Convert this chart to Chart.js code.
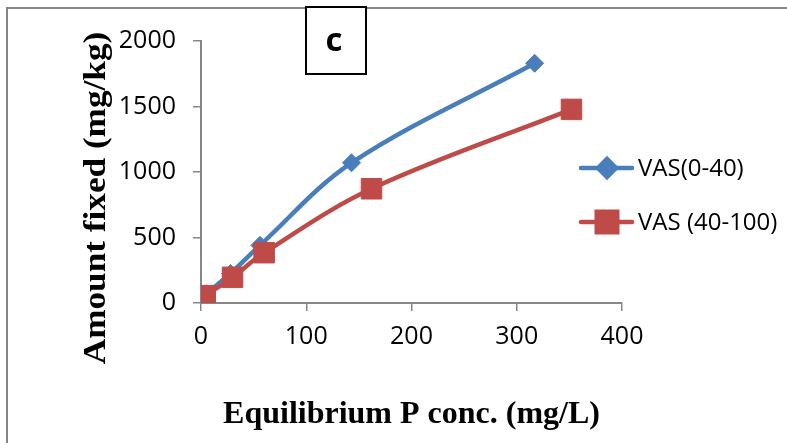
<!DOCTYPE html>
<html>
<head>
<meta charset="utf-8">
<script src="https://cdn.jsdelivr.net/npm/chart.js@4"></script>
<style>
    body { margin: 0; background: #fff; }
    #wrap { width: 787px; height: 443px; position: relative; }
</style>
</head>
<body>
<div id="wrap"><canvas id="fixed-chart"></canvas></div>
<script>
// data
const seriesNames = ['VAS(0-40)', 'VAS (40-100)']
const topsoilX = [5, 28, 56, 143, 317]
const topsoilY = [70, 225, 440, 1070, 1830]
const subsoilX = [4, 30, 60, 162, 352]
const subsoilY = [56, 196, 384, 872, 1478]
const xTicks = [0, 100, 200, 300, 400]
const yTicks = [0, 500, 1000, 1500, 2000]

const BLUE = '#4a7ebb'
const RED = '#be4b48'
const AXIS = '#868686'

function toPoints(xs, ys) {
    return xs.map((x, i) => ({ x: x, y: ys[i] }))
}

// frame, "c" box, y title and legend
const extras = {
    id: 'extras',
    beforeDraw(chart) {
        const ctx = chart.ctx
        ctx.save()
        ctx.fillStyle = '#fff'
        ctx.fillRect(0, 0, chart.width, chart.height)
        ctx.strokeStyle = AXIS
        ctx.lineWidth = 2
        ctx.strokeRect(7, 8, 820, 500)
        ctx.restore()
    },
    afterDraw(chart) {
        const ctx = chart.ctx
        ctx.save()

        // panel letter
        ctx.fillStyle = '#fff'
        ctx.fillRect(306, 7, 60, 67)
        ctx.strokeStyle = '#000'
        ctx.lineWidth = 2
        ctx.strokeRect(306, 7, 60, 67)
        ctx.fillStyle = '#000'
        ctx.font = 'bold 33px "Open Sans"'
        ctx.textAlign = 'center'
        ctx.textBaseline = 'middle'
        ctx.fillText('c', 334, 42)

        // y axis title
        ctx.translate(97, 198)
        ctx.rotate(-Math.PI / 2)
        ctx.scale(1.1, 1)
        ctx.font = 'bold 32px "Liberation Serif"'
        ctx.fillText('Amount fixed (mg/kg)', 0, 0)
        ctx.restore()

        // legend
        ctx.save()
        const rows = [
            { y: 168, color: BLUE, style: 'rectRot', r: 9 },
            { y: 222, color: RED, style: 'rect', r: 14.5 }
        ]
        rows.forEach((row, i) => {
            ctx.strokeStyle = row.color
            ctx.lineWidth = 4.5
            ctx.lineCap = 'round'
            ctx.beginPath()
            ctx.moveTo(581, row.y)
            ctx.lineTo(632, row.y)
            ctx.stroke()
            ctx.fillStyle = row.color
            Chart.helpers.drawPoint(ctx, { pointStyle: row.style, radius: row.r, borderWidth: 1 }, 607, row.y)
            ctx.fillStyle = '#000'
            ctx.font = '24px "Open Sans"'
            ctx.textAlign = 'left'
            ctx.textBaseline = 'middle'
            ctx.fillText(seriesNames[i], 638, row.y + 1)
        })
        ctx.restore()
    }
}

function main() {
    const canvas = document.querySelector('#fixed-chart')

    new Chart(canvas.getContext('2d'), {
        type: 'scatter',
        data: {
            datasets: [
                {
                    label: seriesNames[0],
                    data: toPoints(topsoilX, topsoilY),
                    showLine: true,
                    tension: 0.35,
                    borderColor: BLUE,
                    backgroundColor: BLUE,
                    borderWidth: 4.5,
                    pointStyle: 'rectRot',
                    pointRadius: 9,
                    pointBorderWidth: 1,
                    order: 1
                },
                {
                    label: seriesNames[1],
                    data: toPoints(subsoilX, subsoilY),
                    showLine: true,
                    tension: 0.35,
                    borderColor: RED,
                    backgroundColor: RED,
                    borderWidth: 4.5,
                    pointStyle: 'rect',
                    pointRadius: 14.5,
                    pointBorderWidth: 1,
                    order: 0
                }
            ]
        },
        options: {
            responsive: true,
            maintainAspectRatio: false,
            animation: false,
            layout: { padding: { left: 0, top: 41, right: 165, bottom: 0 } },
            plugins: {
                legend: { display: false },
                tooltip: { enabled: false }
            },
            scales: {
                x: {
                    type: 'linear',
                    min: 0,
                    max: 400,
                    afterFit: scale => { scale.height = 140 },
                    afterBuildTicks: scale => { scale.ticks = xTicks.map(v => ({ value: v })) },
                    grid: { drawOnChartArea: false, drawTicks: true, tickLength: 8, color: AXIS, lineWidth: 1.5 },
                    border: { color: AXIS, width: 2 },
                    ticks: {
                        color: '#000',
                        padding: 11,
                        font: { family: 'Open Sans', size: 25 },
                        callback: value => String(value)
                    },
                    title: {
                        display: true,
                        text: 'Equilibrium P conc. (mg/L)',
                        color: '#000',
                        padding: { top: 0, bottom: 9 },
                        font: { family: 'Liberation Serif', size: 32, weight: 'bold' }
                    }
                },
                y: {
                    type: 'linear',
                    min: 0,
                    max: 2000,
                    afterFit: scale => { scale.width = 201 },
                    afterBuildTicks: scale => { scale.ticks = yTicks.map(v => ({ value: v })) },
                    grid: { drawOnChartArea: false, drawTicks: true, tickLength: 8, color: AXIS, lineWidth: 1.5 },
                    border: { color: AXIS, width: 2 },
                    ticks: {
                        color: '#000',
                        padding: 17,
                        font: { family: 'Open Sans', size: 25 },
                        callback: value => String(value)
                    }
                }
            }
        },
        plugins: [extras]
    })
}

main()
</script>
</body>
</html>
